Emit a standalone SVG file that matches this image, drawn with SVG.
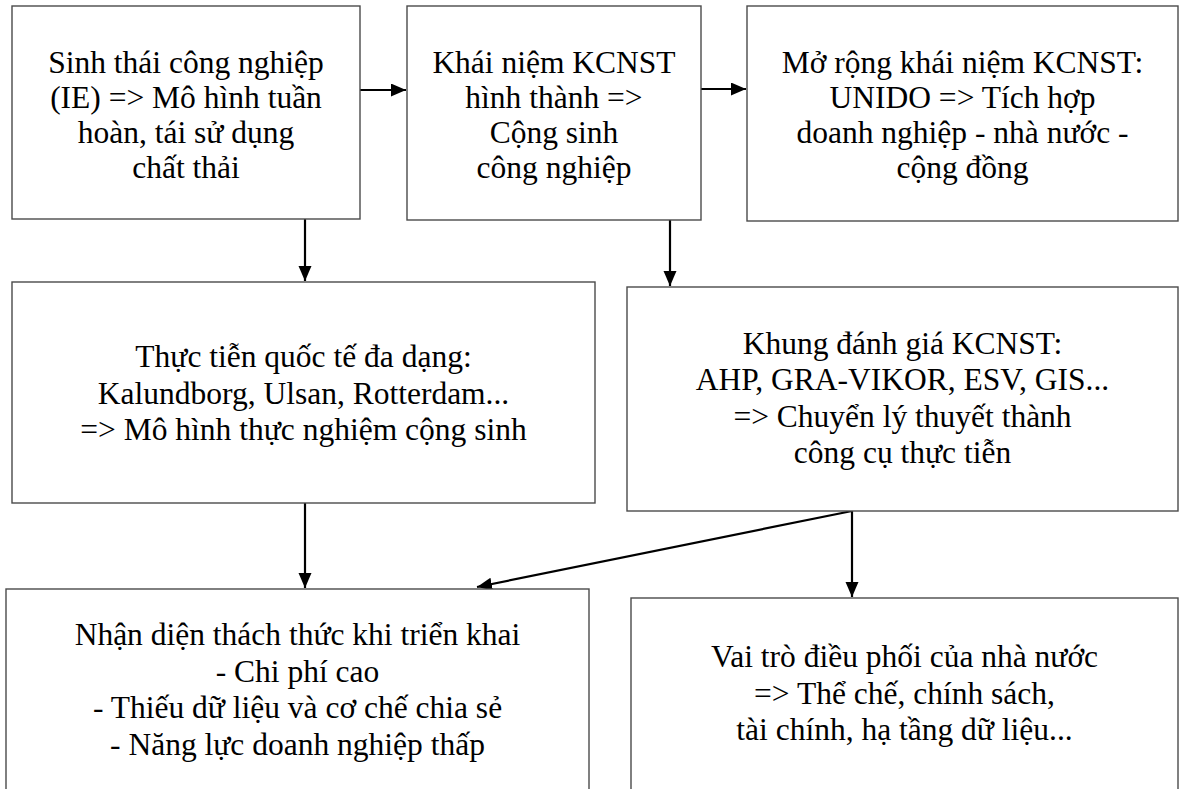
<svg xmlns="http://www.w3.org/2000/svg" width="1181" height="789" viewBox="0 0 1181 789">
  <style>
    .box { fill: #ffffff; stroke: #4a4a4a; stroke-width: 1.4; }
    .lbl { font-family: "Liberation Serif", "Times New Roman", serif; font-size: 31.5px; fill: #000000; text-anchor: middle; }
    .edge { stroke: #000000; stroke-width: 2.2; fill: none; marker-end: url(#head); }
  </style>
  <defs>
    <marker id="head" markerUnits="userSpaceOnUse" markerWidth="16" markerHeight="14" refX="15" refY="6.5" orient="auto">
      <path d="M0,0 L15,6.5 L0,13 Z" fill="#000000"/>
    </marker>
  </defs>
  <rect width="1181" height="789" fill="#ffffff"/>

  <g id="connectors">
    <line class="edge" x1="360" y1="90" x2="406" y2="90"/>
    <line class="edge" x1="701" y1="89" x2="746" y2="89"/>
    <line class="edge" x1="305" y1="219" x2="305" y2="281"/>
    <line class="edge" x1="670" y1="220" x2="670" y2="286"/>
    <line class="edge" x1="305" y1="503" x2="305" y2="588"/>
    <line class="edge" x1="852" y1="511" x2="477" y2="587"/>
    <line class="edge" x1="852" y1="511" x2="852" y2="597"/>
  </g>

  <g id="node-ie">
    <rect class="box" x="12" y="6" width="348" height="213"/>
    <text class="lbl" x="186" y="73">Sinh thái công nghiệp</text>
    <text class="lbl" x="186" y="108">(IE) =&gt; Mô hình tuần</text>
    <text class="lbl" x="186" y="143">hoàn, tái sử dụng</text>
    <text class="lbl" x="186" y="178">chất thải</text>
  </g>

  <g id="node-concept">
    <rect class="box" x="407" y="6" width="294" height="214"/>
    <text class="lbl" x="554" y="73">Khái niệm KCNST</text>
    <text class="lbl" x="554" y="108">hình thành =&gt;</text>
    <text class="lbl" x="554" y="143">Cộng sinh</text>
    <text class="lbl" x="554" y="178">công nghiệp</text>
  </g>

  <g id="node-unido">
    <rect class="box" x="747" y="6" width="431" height="215"/>
    <text class="lbl" x="962.5" y="73">Mở rộng khái niệm KCNST:</text>
    <text class="lbl" x="962.5" y="108">UNIDO =&gt; Tích hợp</text>
    <text class="lbl" x="962.5" y="143">doanh nghiệp - nhà nước -</text>
    <text class="lbl" x="962.5" y="178">cộng đồng</text>
  </g>

  <g id="node-practice">
    <rect class="box" x="12" y="282" width="583" height="221"/>
    <text class="lbl" x="303.5" y="367">Thực tiễn quốc tế đa dạng:</text>
    <text class="lbl" x="303.5" y="403.5">Kalundborg, Ulsan, Rotterdam...</text>
    <text class="lbl" x="303.5" y="440">=&gt; Mô hình thực nghiệm cộng sinh</text>
  </g>

  <g id="node-framework">
    <rect class="box" x="627" y="287" width="551" height="224"/>
    <text class="lbl" x="902.5" y="353.5">Khung đánh giá KCNST:</text>
    <text class="lbl" x="902.5" y="390">AHP, GRA-VIKOR, ESV, GIS...</text>
    <text class="lbl" x="902.5" y="426.5">=&gt; Chuyển lý thuyết thành</text>
    <text class="lbl" x="902.5" y="463">công cụ thực tiễn</text>
  </g>

  <g id="node-challenges">
    <rect class="box" x="6" y="589" width="583" height="220"/>
    <text class="lbl" x="297.5" y="645">Nhận diện thách thức khi triển khai</text>
    <text class="lbl" x="297.5" y="681.5">- Chi phí cao</text>
    <text class="lbl" x="297.5" y="718">- Thiếu dữ liệu và cơ chế chia sẻ</text>
    <text class="lbl" x="297.5" y="754.5">- Năng lực doanh nghiệp thấp</text>
  </g>

  <g id="node-state">
    <rect class="box" x="631" y="598" width="547" height="220"/>
    <text class="lbl" x="904.5" y="667">Vai trò điều phối của nhà nước</text>
    <text class="lbl" x="904.5" y="703.5">=&gt; Thể chế, chính sách,</text>
    <text class="lbl" x="904.5" y="740">tài chính, hạ tầng dữ liệu...</text>
  </g>
</svg>
